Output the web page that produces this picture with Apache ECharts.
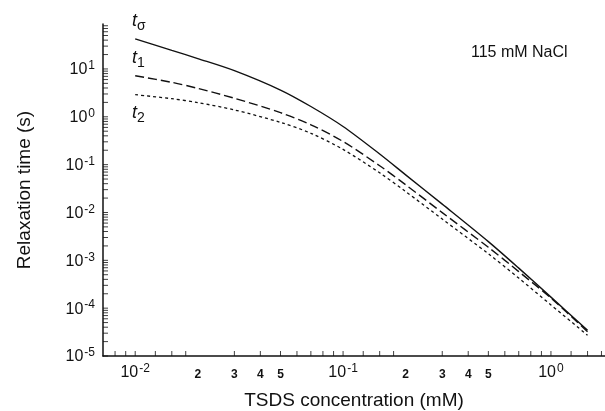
<!DOCTYPE html>
<html>
<head>
<meta charset="utf-8">
<script src="https://cdn.jsdelivr.net/npm/echarts@6/dist/echarts.min.js"></script>
<style>
  html, body { margin: 0; padding: 0; background: #fff; }
  #chart { width: 605px; height: 411px; }
</style>
</head>
<body>
<div id="chart"></div>
<script>
// TSDS concentration (mM)
var concentration = [0.01, 0.015, 0.02, 0.03, 0.05, 0.07, 0.1, 0.15, 0.2, 0.3, 0.5, 0.7, 1.0, 1.5];
// relaxation times (s)
var tSigma = [42.4, 24.4, 16.5, 9.21, 3.62, 1.64, 0.627, 0.1667, 0.0612, 0.01493, 0.00246, 6.87e-4, 1.70e-4, 3.47e-5];
var t1 = [7.21, 5.25, 3.93, 2.44, 1.22, 0.681, 0.304, 0.0948, 0.0379, 0.00995, 0.00187, 5.81e-4, 1.63e-4, 3.22e-5];
var t2 = [2.90, 2.39, 1.98, 1.39, 0.764, 0.452, 0.208, 0.0674, 0.0274, 0.00728, 0.00137, 4.25e-4, 1.17e-4, 2.71e-5];

var xMin = 0.007, xMax = 1.82;
var yMin = 1e-5, yMax = 87;

// tick values
var xTicks = [0.008, 0.009, 0.01, 0.0125, 0.015, 0.0175, 0.03, 0.04, 0.05, 0.06, 0.07, 0.08, 0.09,
    0.1, 0.125, 0.15, 0.175, 0.3, 0.4, 0.5, 0.6, 0.7, 0.8, 0.9, 1, 1.25, 1.5, 1.75];
var xLabels = [0.01, 0.02, 0.03, 0.04, 0.05, 0.1, 0.2, 0.3, 0.4, 0.5, 1];
var yDecades = [1e-5, 1e-4, 1e-3, 1e-2, 1e-1, 1, 10];
var yMinor = [2, 3, 4, 5, 6, 7, 8, 9];

var yTicks = [];
yDecades.forEach(function (d) {
    yTicks.push(d);
    yMinor.forEach(function (m) {
        if (d * m < yMax) yTicks.push(+(d * m).toPrecision(3));
    });
});

function pair(xs, ys) {
    return xs.map(function (x, i) { return [x, ys[i]]; });
}

function powLabel(v) {
    var e = Math.round(Math.log10(v));
    var mant = Math.round(v / Math.pow(10, Math.floor(Math.log10(v) + 1e-9)));
    if (mant === 1) {
        return '{a|10}{b|' + e + '}';
    }
    return '{n|' + mant + '}';
}

var labelRich = {
    a: { fontSize: 16, fontFamily: 'Liberation Sans', color: '#111', lineHeight: 18, verticalAlign: 'bottom' },
    b: { fontSize: 12, fontFamily: 'Liberation Sans', color: '#111', lineHeight: 18, verticalAlign: 'bottom', padding: [0, 0, 6, 1] },
    n: { fontSize: 12, fontFamily: 'Liberation Sans', fontWeight: 'bold', color: '#111', lineHeight: 18, verticalAlign: 'bottom' }
};

var subRich = {
    t: { fontSize: 18, fontStyle: 'italic', fontFamily: 'Liberation Sans', fill: '#111', verticalAlign: 'bottom', lineHeight: 20 },
    s: { fontSize: 14, fontFamily: 'Liberation Sans', fill: '#111', verticalAlign: 'bottom', lineHeight: 20, padding: [0, 0, -3, 0] }
};

// short inside ticks as thin rect symbols sitting on the axis lines
function tickSeries(data, horizontal, len) {
    return {
        type: 'scatter',
        silent: true,
        clip: false,
        data: data,
        symbol: 'rect',
        symbolSize: horizontal ? [len, 1] : [1, len],
        symbolOffset: horizontal ? [len / 2, 0] : [0, -len / 2],
        itemStyle: { color: '#111' },
        z: 5
    };
}

var chart = echarts.init(document.getElementById('chart'));

var option = {
    backgroundColor: '#fff',
    animation: false,
    grid: {
        left: 103,
        right: 0,
        top: 24,
        bottom: 55,
        containLabel: false,
        outerBoundsMode: 'none'
    },
    xAxis: {
        type: 'log',
        logBase: 10,
        min: xMin,
        max: xMax,
        name: 'TSDS concentration (mM)',
        nameLocation: 'middle',
        nameGap: 35,
        nameTextStyle: { fontSize: 19, fontFamily: 'Liberation Sans', color: '#111' },
        axisLine: { lineStyle: { color: '#111', width: 1.5 } },
        axisTick: { show: false },
        axisLabel: {
            customValues: xLabels,
            margin: 7,
            formatter: powLabel,
            rich: labelRich
        },
        splitLine: { show: false }
    },
    yAxis: {
        type: 'log',
        logBase: 10,
        min: yMin,
        max: yMax,
        name: 'Relaxation time (s)',
        nameLocation: 'middle',
        nameGap: 69,
        nameRotate: 90,
        nameTextStyle: { fontSize: 19, fontFamily: 'Liberation Sans', color: '#111' },
        axisLine: { lineStyle: { color: '#111', width: 1.5 } },
        axisTick: { show: false },
        axisLabel: {
            customValues: yDecades,
            margin: 8,
            formatter: powLabel,
            rich: labelRich
        },
        splitLine: { show: false }
    },
    graphic: [
        { type: 'text', left: 132, top: 12, style: { text: '{t|t}{s|σ}', rich: subRich } },
        { type: 'text', left: 132, top: 49, style: { text: '{t|t}{s|1}', rich: subRich } },
        { type: 'text', left: 132, top: 104, style: { text: '{t|t}{s|2}', rich: subRich } },
        {
            type: 'text', left: 471, top: 45,
            style: { text: '115 mM NaCl', fontSize: 16, fontFamily: 'Liberation Sans', fill: '#111' }
        }
    ],
    series: [
        {
            name: 'tσ',
            type: 'line',
            data: pair(concentration, tSigma),
            smooth: 0.3,
            symbol: 'none',
            lineStyle: { color: '#111', width: 1.4, type: 'solid' }
        },
        {
            name: 't1',
            type: 'line',
            data: pair(concentration, t1),
            smooth: 0.3,
            symbol: 'none',
            lineStyle: { color: '#111', width: 1.4, type: [9, 4] }
        },
        {
            name: 't2',
            type: 'line',
            data: pair(concentration, t2),
            smooth: 0.3,
            symbol: 'none',
            lineStyle: { color: '#111', width: 1.3, type: [3, 3] }
        },
        tickSeries(xTicks.map(function (v) { return [v, yMin]; }), false, 5),
        tickSeries(yTicks.map(function (v) { return [xMin, v]; }), true, 5)
    ]
};

chart.setOption(option);
</script>
</body>
</html>
